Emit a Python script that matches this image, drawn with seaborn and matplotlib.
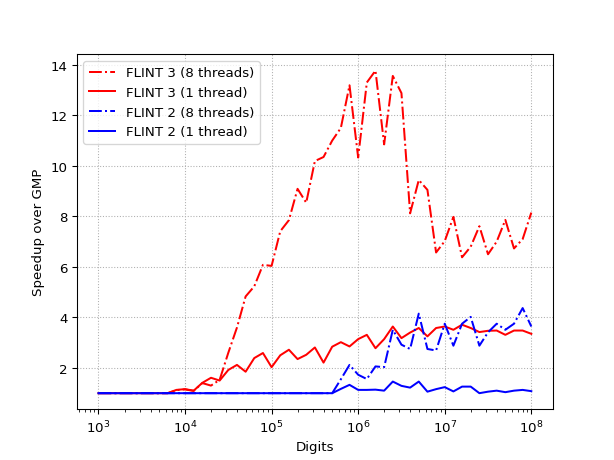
import matplotlib
matplotlib.use("Agg")
import matplotlib.pyplot as plt
import seaborn as sns
import pandas as pd

digits = [1000, 1259, 1585, 1995, 2512, 3162, 3981, 5012, 6310, 7943,
          10000, 12589, 15849, 19953, 25119, 31623, 39811, 50119, 63096, 79433,
          100000, 125893, 158489, 199526, 251189, 316228, 398107, 501187, 630957, 794328,
          1000000, 1258925, 1584893, 1995262, 2511886, 3162278, 3981072, 5011872, 6309573, 7943282,
          10000000, 12589254, 15848932, 19952623, 25118864, 31622777, 39810717, 50118723, 63095734, 79432823,
          100000000]

flint3_8 = [1.0, 1.0, 1.0, 1.0, 1.0, 1.0, 1.0, 1.0, 1.0, 1.12,
            1.15, 1.09, 1.40, 1.30, 1.53, 2.60, 3.60, 4.83, 5.23, 6.08,
            6.04, 7.41, 7.85, 9.09, 8.54, 10.19, 10.35, 11.0, 11.5, 13.19,
            10.33, 13.3, 13.77, 10.85, 13.56, 12.88, 8.12, 9.44, 9.05, 6.57,
            7.02, 7.98, 6.38, 6.80, 7.61, 6.50, 7.00, 7.86, 6.73, 7.10,
            8.15]

flint3_1 = [1.0, 1.0, 1.0, 1.0, 1.0, 1.0, 1.0, 1.0, 1.0, 1.13,
            1.16, 1.10, 1.41, 1.61, 1.50, 1.92, 2.12, 1.85, 2.39, 2.59,
            2.03, 2.50, 2.72, 2.35, 2.52, 2.81, 2.21, 2.84, 3.02, 2.85,
            3.14, 3.31, 2.78, 3.14, 3.64, 3.18, 3.40, 3.58, 3.25, 3.58,
            3.64, 3.51, 3.71, 3.58, 3.42, 3.47, 3.48, 3.31, 3.48, 3.48,
            3.35]

flint2_8 = [1.0] * 28 + [1.55, 2.12,
            1.73, 1.56, 2.06, 2.03, 3.51, 2.92, 2.75, 4.15, 2.75, 2.69,
            3.75, 2.88, 3.75, 4.02, 2.88, 3.41, 3.75, 3.51, 3.75, 4.37,
            3.64]

flint2_1 = [1.0] * 28 + [1.17, 1.33,
            1.13, 1.13, 1.14, 1.10, 1.46, 1.29, 1.22, 1.46, 1.06, 1.16,
            1.24, 1.07, 1.26, 1.26, 1.0, 1.06, 1.10, 1.04, 1.10, 1.13,
            1.08]

labels = ["FLINT 3 (8 threads)", "FLINT 3 (1 thread)", "FLINT 2 (8 threads)", "FLINT 2 (1 thread)"]
series = [flint3_8, flint3_1, flint2_8, flint2_1]
colors = ["r", "r", "b", "b"]
styles = ["-.", "-", "-.", "-"]

fig, ax = plt.subplots(figsize=(6.4, 4.8), dpi=96)
for lab, vals, c, ls in zip(labels, series, colors, styles):
    df = pd.DataFrame({"Digits": digits, "Speedup": vals})
    sns.lineplot(data=df, x="Digits", y="Speedup", color=c, linestyle=ls,
                 linewidth=1.5, label=lab, ax=ax)

ax.set_xscale("log")
ax.set_xlabel("Digits")
ax.set_ylabel("Speedup over GMP")
ax.grid(True, linestyle=":", color="#b0b0b0", linewidth=0.8)
ax.legend(loc="upper left")
fig.savefig("out.png", dpi=96)
